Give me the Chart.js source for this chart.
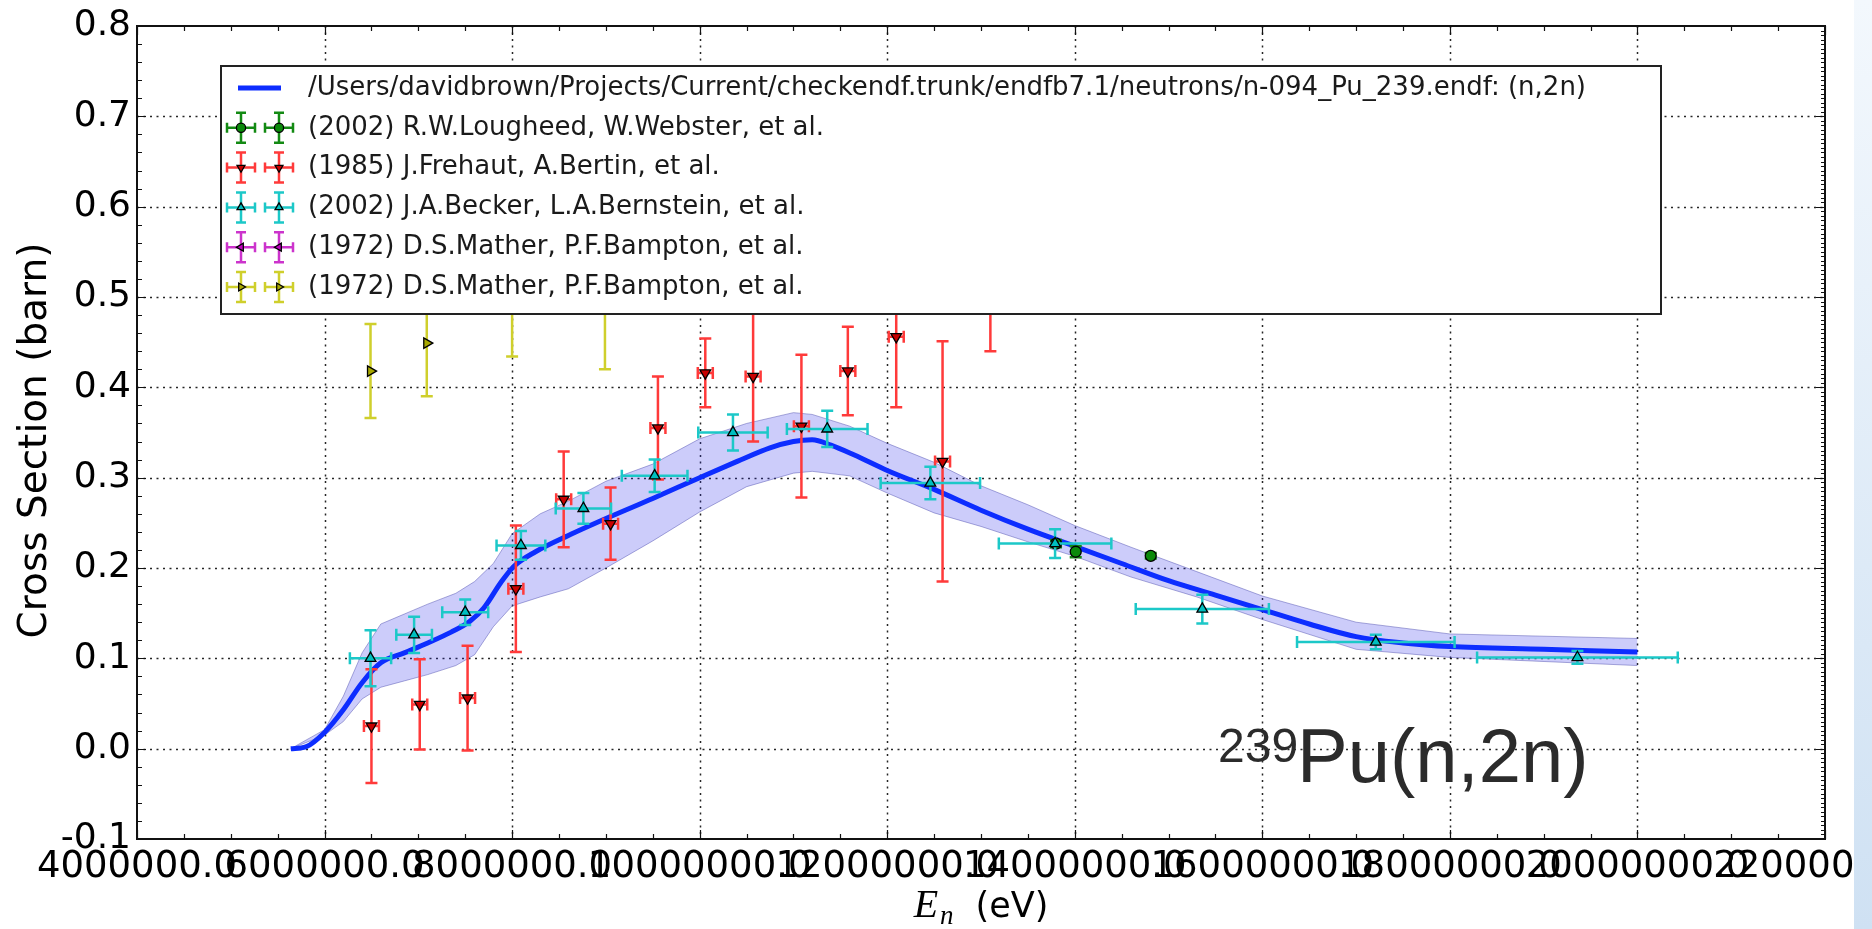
<!DOCTYPE html>
<html><head><meta charset="utf-8">
<script src="https://cdn.jsdelivr.net/npm/chart.js@4.4.1/dist/chart.umd.min.js"></script>
<style>html,body{margin:0;padding:0;background:#fff;overflow:hidden}canvas{display:block}</style>
</head><body>
<canvas id="c" width="1872" height="929"></canvas>
<script>
// ---------- data (energies in eV, cross sections in barn) ----------
const evalE  = [5.64e6,5.8e6,6.0e6,6.2e6,6.4e6,6.6e6,6.85e6,7.1e6,7.35e6,7.55e6,7.7e6,7.88e6,8.02e6,8.25e6,8.6e6,9.05e6,9.5e6,10.0e6,10.4e6,10.75e6,11.0e6,11.2e6,11.4e6,11.65e6,12.0e6,12.5e6,13.0e6,13.5e6,14.0e6,14.5e6,15.0e6,15.5e6,16.0e6,16.5e6,17.0e6,17.5e6,18.0e6,19.0e6,20.0e6];
const evalXS = [0.0,0.002,0.018,0.043,0.073,0.095,0.106,0.117,0.129,0.141,0.156,0.184,0.202,0.218,0.236,0.257,0.277,0.300,0.318,0.333,0.340,0.342,0.336,0.325,0.308,0.287,0.264,0.243,0.224,0.205,0.186,0.170,0.154,0.138,0.124,0.117,0.113,0.110,0.107];

const bandE  = [5.64e6,6.0e6,6.2e6,6.4e6,6.6e6,6.85e6,7.1e6,7.4e6,7.6e6,7.8e6,8.0e6,8.3e6,8.6e6,9.0e6,9.5e6,10.0e6,10.5e6,11.0e6,11.2e6,11.6e6,12.0e6,12.5e6,13.0e6,13.5e6,14.0e6,14.6e6,15.3e6,16.0e6,17.0e6,18.0e6,20.0e6];
const bandHi = [0.0,0.021,0.058,0.106,0.138,0.149,0.160,0.172,0.185,0.205,0.238,0.260,0.274,0.296,0.315,0.343,0.360,0.372,0.370,0.357,0.338,0.317,0.291,0.270,0.247,0.223,0.196,0.169,0.140,0.127,0.122];
const bandLo = [0.0,0.015,0.030,0.055,0.068,0.075,0.082,0.092,0.104,0.135,0.158,0.168,0.177,0.200,0.230,0.262,0.290,0.305,0.307,0.302,0.283,0.261,0.246,0.229,0.213,0.190,0.168,0.143,0.110,0.101,0.092];

const lougheedE    = [13.8e6,14.01e6,14.81e6];
const lougheedXS   = [0.227,0.218,0.2135];
const lougheedErr  = [0.004,0.006,0.003];
const lougheedEErr = [0,0,0];

const frehautE    = [6.50e6,7.015e6,7.525e6,8.04e6,8.55e6,9.05e6,9.555e6,10.06e6,10.57e6,11.085e6,11.58e6,12.096e6,12.59e6,13.1e6];
const frehautXS   = [0.025,0.049,0.056,0.177,0.276,0.249,0.355,0.416,0.412,0.357,0.418,0.456,0.318,0.51];
const frehautErr  = [0.063,0.050,0.058,0.070,0.053,0.040,0.057,0.038,0.072,0.079,0.049,0.078,0.133,0.07];
const frehautEErr = [0.08e6,0.08e6,0.08e6,0.08e6,0.08e6,0.08e6,0.08e6,0.08e6,0.08e6,0.08e6,0.08e6,0.08e6,0.08e6,0.08e6];

const beckerE    = [6.49e6,6.955e6,7.5e6,8.094e6,8.76e6,9.52e6,10.355e6,11.36e6,12.46e6,13.79e6,15.36e6,17.21e6,19.36e6];
const beckerXS   = [0.100,0.126,0.151,0.225,0.266,0.302,0.350,0.354,0.294,0.227,0.1545,0.118,0.101];
const beckerErr  = [0.031,0.020,0.014,0.016,0.017,0.018,0.020,0.020,0.018,0.016,0.016,0.008,0.007];
const beckerEErr = [0.22e6,0.19e6,0.245e6,0.26e6,0.295e6,0.35e6,0.37e6,0.43e6,0.53e6,0.60e6,0.71e6,0.84e6,1.07e6];

const matherAE = [], matherAXS = [], matherAErr = [], matherAEErr = [];

const matherBE    = [6.49e6,7.09e6,8.0e6,8.99e6];
const matherBXS   = [0.418,0.449,0.50,0.49];
const matherBErr  = [0.052,0.059,0.066,0.07];
const matherBEErr = [0,0,0,0];

const xTickValues = [4e6,6e6,8e6,10e6,12e6,14e6,16e6,18e6,20e6,22e6];
const yTickValues = [-0.1,0.0,0.1,0.2,0.3,0.4,0.5,0.6,0.7,0.8];

const legendLabels = [
  "/Users/davidbrown/Projects/Current/checkendf.trunk/endfb7.1/neutrons/n-094_Pu_239.endf: (n,2n)",
  "(2002) R.W.Lougheed, W.Webster, et al.",
  "(1985) J.Frehaut, A.Bertin, et al.",
  "(2002) J.A.Becker, L.A.Bernstein, et al.",
  "(1972) D.S.Mather, P.F.Bampton, et al.",
  "(1972) D.S.Mather, P.F.Bampton, et al."
];

// ---------- helpers ----------
const pts = (xs, ys) => xs.map((v, i) => ({x: v, y: ys[i]}));
const BLUE = '#0d2dff';
const series = [
  {E: lougheedE, XS: lougheedXS, err: lougheedErr, eerr: lougheedEErr, bar: '#138a13', fill: '#0a8a0a', style: 'circle',   rot: 0,   r: 5.5},
  {E: frehautE,  XS: frehautXS,  err: frehautErr,  eerr: frehautEErr,  bar: '#ff3a3a', fill: '#c80000', style: 'triangle', rot: 180, r: 6.2},
  {E: beckerE,   XS: beckerXS,   err: beckerErr,   eerr: beckerEErr,   bar: '#1cc8c8', fill: '#00bfbf', style: 'triangle', rot: 0,   r: 6.2},
  {E: matherAE,  XS: matherAXS,  err: matherAErr,  eerr: matherAEErr,  bar: '#cc33cc', fill: '#bf00bf', style: 'triangle', rot: 270, r: 6},
  {E: matherBE,  XS: matherBXS,  err: matherBErr,  eerr: matherBEErr,  bar: '#cfcf2c', fill: '#a8a800', style: 'triangle', rot: 90,  r: 6}
];

function drawMarker(ctx, style, rot, r, x, y, fill) {
  ctx.save();
  ctx.fillStyle = fill; ctx.strokeStyle = '#000'; ctx.lineWidth = 1.3; ctx.setLineDash([]);
  ctx.beginPath();
  if (style === 'circle') { ctx.arc(x, y, r, 0, Math.PI * 2); }
  else {
    let a = rot * Math.PI / 180;
    for (let k = 0; k < 3; k++) {
      const px = x + Math.sin(a) * r, py = y - Math.cos(a) * r;
      if (k === 0) ctx.moveTo(px, py); else ctx.lineTo(px, py);
      a += 2 * Math.PI / 3;
    }
    ctx.closePath();
  }
  ctx.fill(); ctx.stroke();
  ctx.restore();
}

function errGlyph(ctx, cx, cy, hx, hy, cap, color) {
  ctx.strokeStyle = color; ctx.lineWidth = 2.5; ctx.setLineDash([]);
  ctx.beginPath();
  if (hx > 0) {
    ctx.moveTo(cx - hx, cy); ctx.lineTo(cx + hx, cy);
    ctx.moveTo(cx - hx, cy - cap); ctx.lineTo(cx - hx, cy + cap);
    ctx.moveTo(cx + hx, cy - cap); ctx.lineTo(cx + hx, cy + cap);
  }
  if (hy > 0) {
    ctx.moveTo(cx, cy - hy); ctx.lineTo(cx, cy + hy);
    ctx.moveTo(cx - cap, cy - hy); ctx.lineTo(cx + cap, cy - hy);
    ctx.moveTo(cx - cap, cy + hy); ctx.lineTo(cx + cap, cy + hy);
  }
  ctx.stroke();
}

const FIRST_SERIES_INDEX = 3;

const mplPlugin = {
  id: 'mpl',
  beforeDatasetsDraw(chart) {
    const {ctx, chartArea: a, scales: {x, y}} = chart;
    ctx.save();
    ctx.strokeStyle = 'rgba(0,0,0,0.85)'; ctx.lineWidth = 1.5; ctx.setLineDash([2, 4.5]);
    xTickValues.forEach(v => {
      const p = Math.round(x.getPixelForValue(v)) + 0.5;
      if (p <= a.left + 1 || p >= a.right - 1) return;
      ctx.beginPath(); ctx.moveTo(p, a.top); ctx.lineTo(p, a.bottom); ctx.stroke();
    });
    yTickValues.forEach(v => {
      const p = Math.round(y.getPixelForValue(v)) + 0.5;
      if (p <= a.top + 1 || p >= a.bottom - 1) return;
      ctx.beginPath(); ctx.moveTo(a.left, p); ctx.lineTo(a.right, p); ctx.stroke();
    });
    ctx.restore();
  },
  beforeDatasetDraw(chart, args) {
    const si = args.index - FIRST_SERIES_INDEX;
    if (si < 0 || !series[si]) return;
    const s = series[si];
    const {ctx, chartArea: a, scales: {x, y}} = chart;
    ctx.save();
    ctx.beginPath(); ctx.rect(a.left, a.top, a.right - a.left, a.bottom - a.top); ctx.clip();
    s.E.forEach((e, i) => {
      const cx = x.getPixelForValue(e), cy = y.getPixelForValue(s.XS[i]);
      const hx = s.eerr[i] ? Math.abs(x.getPixelForValue(e + s.eerr[i]) - cx) : 0;
      const hy = s.err[i] ? Math.abs(y.getPixelForValue(s.XS[i] + s.err[i]) - cy) : 0;
      errGlyph(ctx, cx, cy, hx, hy, 6, s.bar);
    });
    ctx.restore();
  },
  afterDatasetsDraw(chart) {
    const {ctx, chartArea: a, scales: {x, y}} = chart;
    ctx.save();
    ctx.strokeStyle = '#111'; ctx.lineWidth = 1.2; ctx.setLineDash([]);
    ctx.beginPath();
    xTickValues.forEach(v => {
      const p = Math.round(x.getPixelForValue(v)) + 0.5;
      ctx.moveTo(p, a.bottom); ctx.lineTo(p, a.bottom - 9);
      ctx.moveTo(p, a.top); ctx.lineTo(p, a.top + 9);
    });
    yTickValues.forEach(v => {
      const p = Math.round(y.getPixelForValue(v)) + 0.5;
      ctx.moveTo(a.left, p); ctx.lineTo(a.left + 9, p);
      ctx.moveTo(a.right, p); ctx.lineTo(a.right - 9, p);
    });
    for (let v = x.min; v <= x.max + 1; v += 0.5e6) {
      const p = Math.round(x.getPixelForValue(v)) + 0.5;
      ctx.moveTo(p, a.bottom); ctx.lineTo(p, a.bottom - 5);
      ctx.moveTo(p, a.top); ctx.lineTo(p, a.top + 5);
    }
    for (let k = 0; k <= 45; k++) {
      const p = Math.round(y.getPixelForValue(y.min + k * 0.02)) + 0.5;
      ctx.moveTo(a.left, p); ctx.lineTo(a.left + 5, p);
    }
    for (let k = 0; k <= 180; k++) {
      const p = Math.round(y.getPixelForValue(y.min + k * 0.005)) + 0.5;
      ctx.moveTo(a.right, p); ctx.lineTo(a.right - 4, p);
    }
    ctx.stroke();
    ctx.lineWidth = 2; ctx.strokeStyle = '#111';
    ctx.strokeRect(a.left, a.top, a.right - a.left, a.bottom - a.top);
    ctx.restore();
  },
  afterDraw(chart) {
    const {ctx, chartArea: a} = chart;
    ctx.save();
    const L = a.left + 84, T = a.top + 40, R = a.left + 1524, B = a.top + 288;
    ctx.fillStyle = '#fff'; ctx.fillRect(L, T, R - L, B - T);
    ctx.strokeStyle = '#222'; ctx.lineWidth = 2; ctx.strokeRect(L, T, R - L, B - T);
    const rowY = k => T + 22 + k * 39.8;
    ctx.font = '26px "DejaVu Sans"'; ctx.fillStyle = '#1a1a1a'; ctx.textBaseline = 'middle'; ctx.textAlign = 'left';
    legendLabels.forEach((t, k) => ctx.fillText(t, L + 87, rowY(k)));
    ctx.strokeStyle = BLUE; ctx.lineWidth = 5; ctx.lineCap = 'butt';
    ctx.beginPath(); ctx.moveTo(L + 17, rowY(0)); ctx.lineTo(L + 60, rowY(0)); ctx.stroke();
    series.forEach((s, k) => {
      [L + 20, L + 58].forEach(cx => {
        errGlyph(ctx, cx, rowY(k + 1), 14, 15, 5, s.bar);
        drawMarker(ctx, s.style, s.rot, 4.6, cx, rowY(k + 1), s.fill);
      });
    });
    ctx.fillStyle = '#000';
    ctx.save();
    ctx.translate(36, (a.top + a.bottom) / 2 + 8);
    ctx.rotate(-Math.PI / 2);
    ctx.font = '39px "DejaVu Sans"'; ctx.textAlign = 'center'; ctx.textBaseline = 'middle';
    ctx.fillText('Cross Section (barn)', 0, 0);
    ctx.restore();
    ctx.textBaseline = 'alphabetic'; ctx.textAlign = 'left';
    const fE = 'italic 40px "Liberation Serif"', fN = 'italic 27px "Liberation Serif"', fU = '35px "DejaVu Sans"';
    ctx.font = fE; const wE = ctx.measureText('E').width;
    ctx.font = fN; const wN = ctx.measureText('n').width;
    ctx.font = fU; const wU = ctx.measureText('(eV)').width;
    const gap = 22, total = wE + 2 + wN + gap + wU;
    let xx = (a.left + a.right) / 2 - total / 2; const base = 917;
    ctx.font = fE; ctx.fillText('E', xx, base); xx += wE + 2;
    ctx.font = fN; ctx.fillText('n', xx, base + 7); xx += wN + gap;
    ctx.font = fU; ctx.fillText('(eV)', xx, base);
    ctx.fillStyle = '#2b2b2b';
    ctx.font = '48px "Liberation Sans"'; ctx.fillText('239', 1218, 762);
    ctx.font = '76px "Liberation Sans"'; ctx.fillText('Pu(n,2n)', 1297, 782);
    const g = ctx.createLinearGradient(0, 0, 0, 929);
    g.addColorStop(0, '#f3f8fd'); g.addColorStop(1, '#cfe1f3');
    ctx.fillStyle = g; ctx.fillRect(1854, 0, 18, 929);
    ctx.restore();
  }
};

const datasets = [
  {type: 'line', data: pts(bandE, bandHi), fill: '+1', backgroundColor: 'rgba(40,40,235,0.24)', borderColor: 'rgba(70,70,170,0.45)', borderWidth: 1, pointRadius: 0, tension: 0, order: 10},
  {type: 'line', data: pts(bandE, bandLo), fill: false, borderColor: 'rgba(70,70,170,0.45)', borderWidth: 1, pointRadius: 0, tension: 0, order: 9},
  {type: 'line', data: pts(evalE, evalXS), fill: false, borderColor: BLUE, borderWidth: 5, pointRadius: 0, cubicInterpolationMode: 'monotone', order: 5},
];
series.forEach((s, k) => datasets.push({
  type: 'line', showLine: false, data: pts(s.E, s.XS),
  pointStyle: s.style, pointRotation: s.rot, pointRadius: s.r, pointBackgroundColor: s.fill,
  pointBorderColor: '#000', pointBorderWidth: 1.3, order: 4 - k * 0.1
}));

new Chart(document.getElementById('c'), {
  type: 'line',
  data: {datasets},
  plugins: [mplPlugin],
  options: {
    responsive: false, animation: false, devicePixelRatio: 1,
    layout: {padding: {left: 0, top: 26, right: 47, bottom: 0}, autoPadding: false},
    plugins: {legend: {display: false}, tooltip: {enabled: false}, title: {display: false}},
    scales: {
      x: {
        type: 'linear', min: 4e6, max: 22e6,
        grid: {display: false, drawTicks: false}, border: {display: false},
        afterBuildTicks: s => { s.ticks = xTickValues.map(v => ({value: v})); },
        afterFit: s => { s.height = 90; s.paddingLeft = 0; s.paddingRight = 0; },
        ticks: {autoSkip: false, maxRotation: 0, minRotation: 0, padding: 6, color: '#000',
          font: {family: 'DejaVu Sans', size: 37}, callback: v => Number(v).toFixed(1)}
      },
      y: {
        type: 'linear', min: -0.1, max: 0.8,
        grid: {display: false, drawTicks: false}, border: {display: false},
        afterBuildTicks: s => { s.ticks = yTickValues.map(v => ({value: v})); },
        afterFit: s => { s.width = 137; s.paddingTop = 0; s.paddingBottom = 0; },
        ticks: {autoSkip: false, padding: 6, color: '#000',
          font: {family: 'DejaVu Sans', size: 36}, callback: v => Number(v).toFixed(1)}
      }
    }
  }
});
</script>
</body></html>
